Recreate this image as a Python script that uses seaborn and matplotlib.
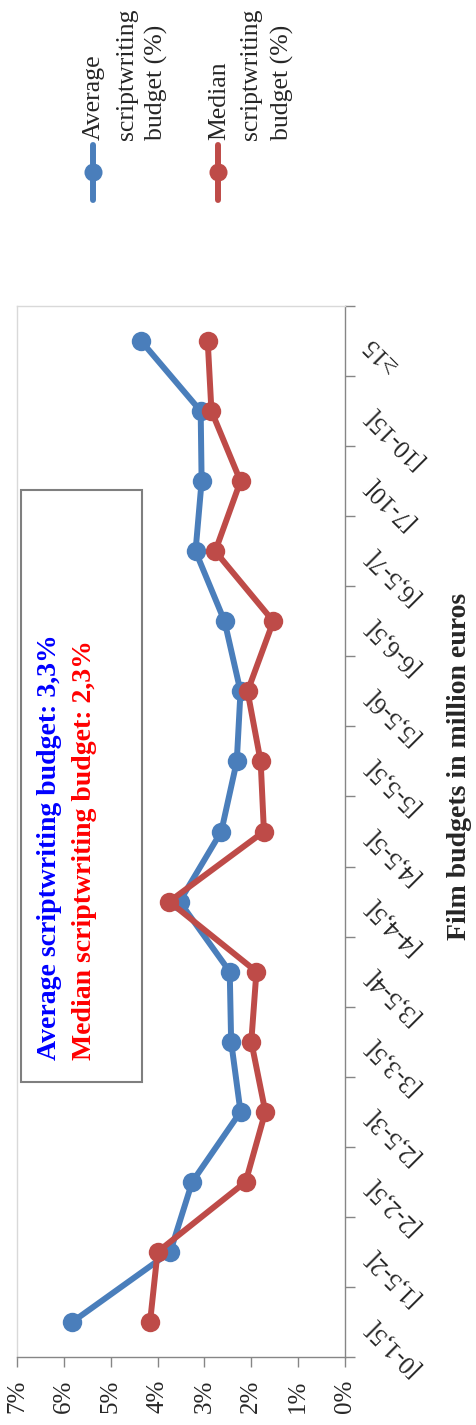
import numpy as np
import pandas as pd
import seaborn as sns
import matplotlib.pyplot as plt
from matplotlib.lines import Line2D
from matplotlib.patches import Rectangle

# Film budget brackets (million euros) and scriptwriting share of budget (%)
categories = ['[0-1,5[', '[1,5-2[', '[2-2,5[', '[2,5-3[', '[3-3,5[', '[3,5-4[',
              '[4-4,5[', '[4,5-5[', '[5-5,5[', '[5,5-6[', '[6-6,5[', '[6,5-7[',
              '[7-10[', '[10-15[', '≥15']
average = [5.82, 3.73, 3.26, 2.23, 2.43, 2.46, 3.53, 2.64, 2.31, 2.23, 2.57, 3.19, 3.06, 3.08, 4.35]
median = [4.16, 4.00, 2.12, 1.70, 2.00, 1.89, 3.75, 1.73, 1.80, 2.08, 1.53, 2.77, 2.23, 2.85, 2.93]
pct_ticks = [0, 1, 2, 3, 4, 5, 6, 7]
series_names = ['Average scriptwriting budget (%)', 'Median scriptwriting budget (%)']
summary = ['Average scriptwriting budget: 3,3%', 'Median scriptwriting budget: 2,3%']

blue = '#4A7EBB'
red = '#BE4B48'

sns.set_style('white')
plt.rcParams['font.family'] = ['Liberation Serif', 'DejaVu Serif']

pos = np.arange(len(categories))
df = pd.DataFrame({
    'pos': np.concatenate([pos, pos]),
    'value': average + median,
    'series': [series_names[0]] * len(pos) + [series_names[1]] * len(pos),
})

W, H = 476, 1425
fig = plt.figure(figsize=(W / 100, H / 100), dpi=100)


def fx(px):
    return px / W


def fy(py):
    return 1 - py / H


# chart is drawn turned a quarter turn: percent axis runs right to left
ax = fig.add_axes([fx(17), fy(1357), fx(345) - fx(17), fy(306) - fy(1357)])
sns.lineplot(data=df, x='value', y='pos', hue='series', orient='y', sort=False,
             estimator=None, marker='o', markersize=14, markeredgewidth=0,
             linewidth=4.3, palette=[blue, red], legend=False, ax=ax)

ax.set_xlim(7, 0)
ax.set_ylim(-0.5, len(categories) - 0.5)
ax.set_xticks(pct_ticks, labels=[f'{t}%' for t in pct_ticks])
ax.tick_params(axis='x', which='major', bottom=True, length=7, width=1, color='#868686',
               pad=9, labelsize=18, labelrotation=90)
ax.set_xlabel('')

ax.yaxis.tick_right()
ax.set_yticks(np.arange(len(categories) + 1) - 0.5)
ax.set_yticks(pos, labels=categories, minor=True)
ax.tick_params(axis='y', which='major', right=True, left=False, length=7, width=1,
               color='#868686', labelright=False, labelleft=False)
ax.tick_params(axis='y', which='minor', right=True, left=False, length=0,
               pad=16, labelsize=18, labelright=True, labelleft=False)
ax.set_ylabel('Film budgets in million euros', fontsize=20, fontweight='bold',
              rotation=90)
ax.yaxis.set_label_position('right')
ax.yaxis.set_label_coords((459 - 17) / 328, (1357 - 766) / 1051)
ax.yaxis.label.set_ha('center')
ax.yaxis.label.set_va('center')

for side in ['left', 'top']:
    ax.spines[side].set_color('#D9D9D9')
for side in ['right', 'bottom']:
    ax.spines[side].set_color('#868686')
for sp in ax.spines.values():
    sp.set_linewidth(1)

# summary box
fig.add_artist(Rectangle((fx(21), fy(1082)), fx(142) - fx(21), fy(490) - fy(1082),
                         transform=fig.transFigure, facecolor='white',
                         edgecolor='#7F7F7F', linewidth=1.5))
fig.text(fx(50), fy(1060), summary[0], color='#0000FF', fontsize=20, fontweight='bold',
         rotation=90, ha='center', va='bottom')
fig.text(fx(85), fy(1060), summary[1], color='#FF0000', fontsize=20, fontweight='bold',
         rotation=90, ha='center', va='bottom')

# legend, drawn by hand because its entries are turned as well
legend_x = [(93, [94, 127, 156]), (218, [219, 251, 282])]
for (mx, text_x), col, name in zip(legend_x, [blue, red], series_names):
    fig.add_artist(Line2D([fx(mx), fx(mx)], [fy(200), fy(145)], transform=fig.transFigure,
                          color=col, linewidth=4.3))
    fig.add_artist(Line2D([fx(mx)], [fy(172)], transform=fig.transFigure, color=col,
                          marker='o', markersize=13, markeredgewidth=0))
    words = name.split(' ')
    lines = [words[0], words[1], ' '.join(words[2:])]
    for tx, line in zip(text_x, lines):
        fig.text(fx(tx), fy(140), line, fontsize=18.5, rotation=90,
                 ha='center', va='bottom')

for lab in ax.get_yticklabels(minor=True):
    lab.set_rotation(135)
    lab.set_rotation_mode('anchor')
    lab.set_ha('right')
    lab.set_va('center')

fig.savefig('out.png', dpi=100)
